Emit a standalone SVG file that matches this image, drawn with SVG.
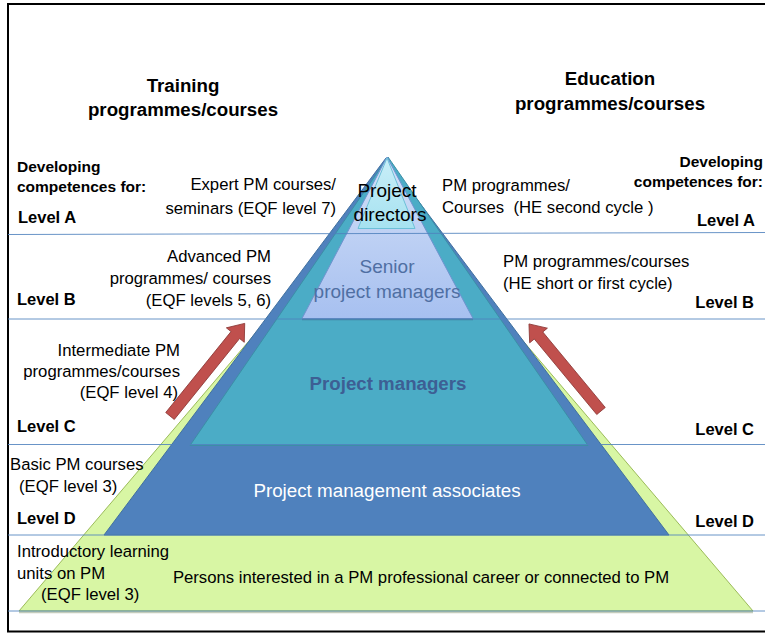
<svg xmlns="http://www.w3.org/2000/svg" width="765" height="634" viewBox="0 0 765 634">
<defs>
<linearGradient id="gSenior" x1="0" y1="0" x2="0" y2="1">
<stop offset="0" stop-color="#d3e0f7"/>
<stop offset="1" stop-color="#a7c0f0"/>
</linearGradient>
<linearGradient id="gDir" x1="0" y1="0" x2="0" y2="1">
<stop offset="0" stop-color="#c9eef8"/>
<stop offset="1" stop-color="#a6e2f0"/>
</linearGradient>
<style>
text{font-family:"Liberation Sans",Arial,sans-serif;fill:#000}
.t{font-size:16.7px}
.b{font-weight:bold}
.hd{font-size:18.7px;font-weight:bold}
.dv{font-size:15.5px;font-weight:bold}
.lv{font-size:16.5px;font-weight:bold}
.e{text-anchor:end}
.m{text-anchor:middle}
.ln{stroke:#4f81bd;stroke-width:1;stroke-opacity:0.85;fill:none}
.arr{fill:#c0504d;stroke:#8c3836;stroke-width:0.8}
</style>
</defs>
<rect x="8" y="4" width="770" height="627.5" fill="#ffffff" stroke="#000" stroke-width="2"/>

<g id="pyramid-base">
<polygon points="19,611 753,611 386,180" fill="#d8f6a4" stroke="#9bbb59" stroke-width="1"/>
<line x1="19" y1="612.5" x2="753" y2="612.5" stroke="#8a9a7a" stroke-width="1.5" stroke-opacity="0.5"/>
<text class="t" x="421" y="583" text-anchor="middle">Persons interested in a PM professional career or connected to PM</text>
</g>
<g id="associates">
<polygon points="104,535 669,535 386,158" fill="#4f81bd" stroke="#41709f" stroke-width="1"/>
<text x="387" y="497" text-anchor="middle" style="font-size:18.8px;fill:#ffffff">Project management associates</text>
</g>
<g id="managers">
<polygon points="190,445.5 588,445.5 388,157" fill="#4bacc6" stroke="#3c8ea6" stroke-width="1"/>
<text x="388" y="390" text-anchor="middle" style="font-size:18.7px;font-weight:bold;fill:#3d5f94">Project managers</text>
</g>
<g id="senior">
<polygon points="302,318.5 473,318.5 387,157" fill="url(#gSenior)" stroke="#6f93cf" stroke-width="1"/>
<line x1="302" y1="319.5" x2="473" y2="319.5" stroke="#3f6b8c" stroke-width="1.5" stroke-opacity="0.6"/>
<text x="387" y="273" text-anchor="middle" style="font-size:19px;fill:#4f6fa3">Senior</text>
<text x="387" y="298" text-anchor="middle" style="font-size:19px;fill:#4f6fa3">project managers</text>
</g>
<g id="directors">
<polygon points="358,228.5 415,228.5 387,158" fill="url(#gDir)" stroke="#6cc0d8" stroke-width="1"/>
<text x="387" y="197" text-anchor="middle" style="font-size:19px">Project</text>
<text x="390" y="221" text-anchor="middle" style="font-size:19px">directors</text>
</g>

<g id="level-lines">
<line class="ln" x1="8" y1="234.5" x2="765" y2="232.5"/>
<line class="ln" x1="8" y1="319" x2="765" y2="319"/>
<line class="ln" x1="8" y1="444.5" x2="765" y2="444.5"/>
<line class="ln" x1="8" y1="535" x2="765" y2="535"/>
<line class="ln" x1="8" y1="611" x2="765" y2="611"/>
</g>

<g id="connectors">
<g transform="translate(170,416) rotate(-51.1)">
<polygon class="arr" points="0,-5.5 104,-5.5 104,-11.5 119,0 104,11.5 104,5.5 0,5.5"/>
</g>
<g transform="translate(601,411) rotate(-129.6)">
<polygon class="arr" points="0,-5.5 98,-5.5 98,-11.5 113,0 98,11.5 98,5.5 0,5.5"/>
</g>
</g>

<g id="headings">
<text class="hd m" x="183" y="92">Training</text>
<text class="hd m" x="183" y="116">programmes/courses</text>
<text class="hd m" x="610" y="85">Education</text>
<text class="hd m" x="610" y="110">programmes/courses</text>
</g>

<g id="left-labels">
<text class="dv" x="17" y="172">Developing</text>
<text class="dv" x="17" y="192">competences for:</text>
<text class="lv" x="18" y="223">Level A</text>
<text class="lv" x="17" y="305">Level B</text>
<text class="lv" x="17" y="432">Level C</text>
<text class="lv" x="17" y="524">Level D</text>
</g>

<g id="right-labels">
<text class="dv e" x="763" y="167">Developing</text>
<text class="dv e" x="763" y="187">competences for:</text>
<text class="lv e" x="755" y="226">Level A</text>
<text class="lv e" x="754" y="308">Level B</text>
<text class="lv e" x="754" y="435">Level C</text>
<text class="lv e" x="754" y="527">Level D</text>
</g>

<g id="training-courses">
<text class="t e" x="336" y="190">Expert PM courses/</text>
<text class="t e" x="336" y="214">seminars (EQF level 7)</text>
<text class="t e" x="271" y="262">Advanced PM</text>
<text class="t e" x="271" y="284">programmes/ courses</text>
<text class="t e" x="271" y="306">(EQF levels 5, 6)</text>
<text class="t e" x="180" y="356">Intermediate PM</text>
<text class="t e" x="180" y="377">programmes/courses</text>
<text class="t e" x="178" y="398">(EQF level 4)</text>
<text class="t" x="10" y="470">Basic PM courses</text>
<text class="t" x="19" y="492">(EQF level 3)</text>
<text class="t" x="17" y="557">Introductory learning</text>
<text class="t" x="17" y="579">units on PM</text>
<text class="t" x="41" y="600">(EQF level 3)</text>
</g>

<g id="education-courses">
<text class="t" x="442" y="191">PM programmes/</text>
<text class="t" x="442" y="213" xml:space="preserve">Courses  (HE second cycle )</text>
<text class="t" x="503" y="267">PM programmes/courses</text>
<text class="t" x="503" y="289">(HE short or first cycle)</text>
</g>
</svg>
